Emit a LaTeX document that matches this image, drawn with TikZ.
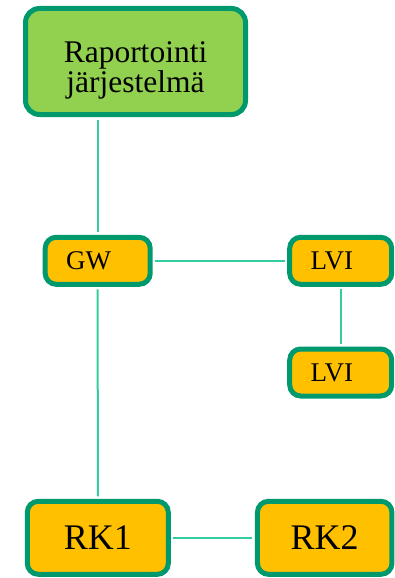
\documentclass[tikz,border=0pt]{standalone}
\usepackage{fontspec}
\setmainfont{Liberation Serif}
\definecolor{rimgreen}{HTML}{00996E}
\definecolor{linkgreen}{HTML}{33CCA0}
\definecolor{boxgreen}{HTML}{92D050}
\definecolor{boxorange}{HTML}{FFC000}
\tikzset{
  unit/.style={draw=rimgreen, line width=5pt, rounded corners=11pt},
  link/.style={linkgreen, line width=2pt, shorten <=2.5pt, shorten >=2.5pt},
}
% small orange box, text sits left
\newcommand{\device}[4]{%
 \node[unit, fill=boxorange, inner xsep=21pt, text width={#3}, align=left,%
  minimum height=47pt, font=\fontsize{27}{27}\selectfont] ({#1}) at ({#2}) {#4};%
}
% big orange box, text centred
\newcommand{\cabinet}[4]{%
 \node[unit, fill=boxorange, minimum width={#3}, minimum height=73pt,%
  font=\fontsize{36}{36}\selectfont] ({#1}) at ({#2}) {#4};%
}

\begin{document}
\begin{tikzpicture}[x=1pt, y=-1pt]
  \useasboundingbox (0,0) rectangle (395,578);
  \node[unit, fill=boxgreen, rounded corners=14pt, minimum width=220pt, minimum height=106pt,
    align=center, font=\fontsize{31.5}{30}\selectfont] (report) at (135.5,61.5)
    {\rule{0pt}{38pt}Raportointi\\järjestelmä};
  \device{gw}{97.7,260.8}{63pt}{GW};
  \device{lvia}{340.7,260.8}{60pt}{LVI};
  \device{lvib}{340.7,372.5}{60pt}{LVI};
  \cabinet{rka}{97.8,537.8}{141pt}{RK1};
  \cabinet{rkb}{324.7,537.8}{134.5pt}{RK2};
  \draw[link] (gw.north |- report.south) -- (gw.north);
  \draw[link] (gw.east) -- (lvia.west);
  \draw[link] (lvia.south) -- (lvib.north);
  \draw[link] (gw.south) -- (rka.north);
  \draw[link] (rka.east) -- (rkb.west);
\end{tikzpicture}
\end{document}
